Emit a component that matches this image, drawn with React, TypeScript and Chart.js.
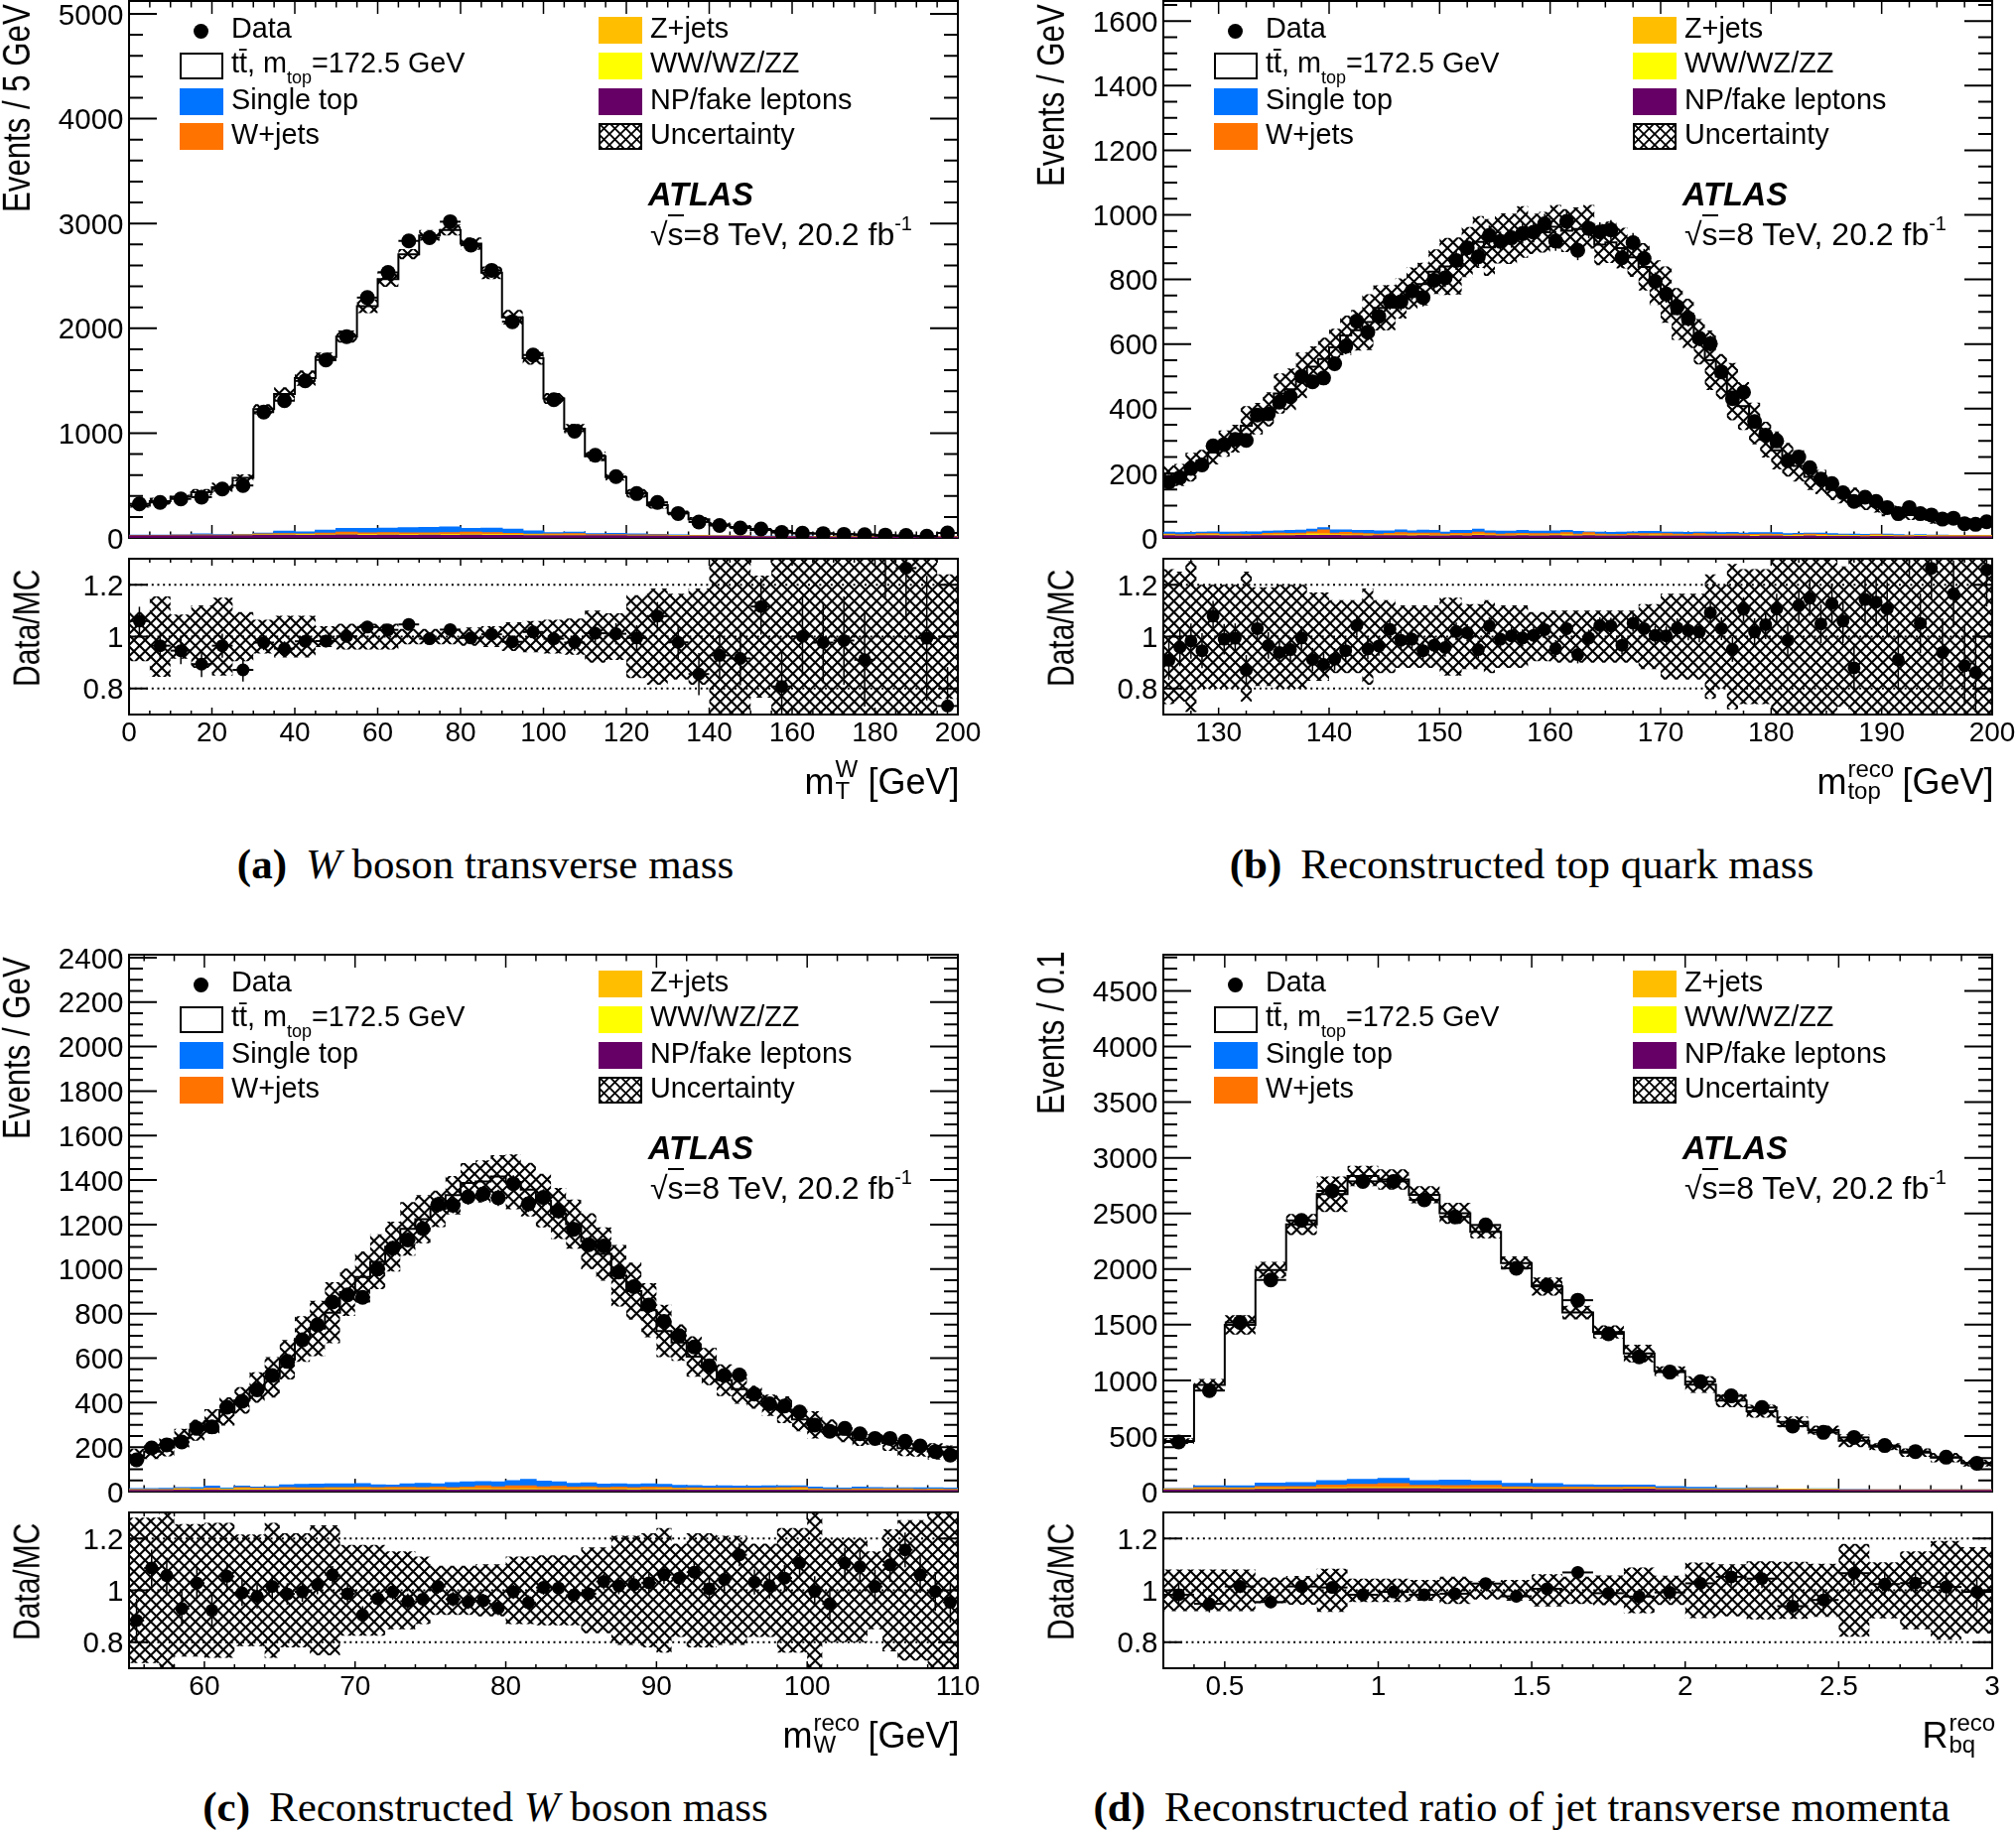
import React, { useEffect, useRef } from "react";
import { Chart, registerables } from "chart.js";

Chart.register(...registerables);

// ---------- (a) W boson transverse mass ----------
const mtwData = [325,338,372,389,467,500,1200,1309,1498,1698,1921,2293,2533,2834,2864,3017,2793,2553,2063,1745,1319,1018,788,585,423,338,233,152,118,95,85,51,44,41,34,30,27,24,17,47];
const mtwMc = [307,350,393,435,484,573,1228,1372,1525,1727,1921,2211,2469,2707,2887,2938,2807,2530,2105,1714,1330,1042,778,579,425,313,238,178,127,104,76,63,44,42,35,33,22,19,17,47];
const mtwRatio = [1.06,0.965,0.946,0.894,0.965,0.872,0.977,0.954,0.982,0.983,1.001,1.037,1.026,1.047,0.992,1.027,0.995,1.009,0.98,1.018,0.992,0.977,1.013,1.011,0.995,1.079,0.978,0.856,0.928,0.916,1.116,0.808,1.001,0.977,0.985,0.911,1.34,1.264,0.994,0.733];
const mtwRatioErr = [0.055,0.054,0.052,0.05,0.046,0.045,0.029,0.028,0.026,0.024,0.023,0.021,0.02,0.019,0.019,0.018,0.019,0.02,0.022,0.024,0.028,0.031,0.036,0.041,0.049,0.054,0.066,0.081,0.092,0.103,0.108,0.14,0.15,0.156,0.17,0.18,0.19,0.2,0.24,0.15];
const mtwBand = [0.095,0.155,0.085,0.12,0.15,0.095,0.065,0.08,0.08,0.04,0.05,0.05,0.05,0.03,0.03,0.03,0.035,0.04,0.055,0.06,0.065,0.07,0.1,0.09,0.16,0.185,0.165,0.185,0.31,0.31,0.235,0.32,0.32,0.32,0.32,0.32,0.32,0.32,0.32,0.24];
const mtwNp = [18,18,18,18,18,20,24,24,22,24,26,22,24,22,24,22,24,22,22,20,20,20,18,18,16,16,14,14,12,12,10,10,10,8,8,8,8,8,6,6];
const mtwVv = [2,2,2,2,2,2,3,3,3,3,3,3,3,3,3,3,3,3,3,3,2,2,2,2,2,2,2,1,1,1,1,1,1,1,1,1,1,1,1,1];
const mtwZj = [1,1,1,2,2,2,3,4,3,4,5,5,5,4,5,6,5,5,4,3,3,3,2,2,2,2,2,1,1,1,1,1,1,1,1,1,1,1,1,1];
const mtwWj = [1,1,2,3,2,3,5,8,7,12,18,14,16,16,14,16,20,18,12,8,10,12,6,6,5,5,3,2,2,2,1,1,1,1,1,1,1,1,1,1];
const mtwSt = [2,2,4,10,4,3,8,22,20,28,36,44,42,50,52,54,36,42,40,30,12,16,10,12,10,6,4,3,2,2,2,2,1,1,1,1,0,0,0,0];

// ---------- (b) Reconstructed top quark mass ----------
const mtopData = [173,187,215,226,285,289,305,302,380,384,420,437,500,483,495,539,593,671,637,686,733,731,764,744,797,805,859,898,870,936,918,929,942,946,972,919,980,890,958,947,953,867,914,865,794,755,716,680,618,601,514,431,451,360,318,300,239,250,217,182,168,140,113,126,113,94,75,94,75,71,58,61,44,42,50];
const mtopMc = [190,195,219,239,264,292,307,347,369,398,447,460,503,530,554,590,627,643,668,712,713,741,772,786,824,840,842,885,916,899,927,926,947,941,946,963,951,956,963,908,915,897,869,839,790,753,693,664,607,550,499,453,408,354,304,271,242,223,189,173,149,132,128,110,100,85,82,71,71,56,62,52,50,49,40];
const mtopRatio = [0.909,0.959,0.983,0.946,1.079,0.99,0.994,0.871,1.031,0.966,0.939,0.95,0.995,0.912,0.893,0.913,0.946,1.043,0.953,0.964,1.028,0.986,0.99,0.946,0.967,0.958,1.02,1.015,0.95,1.041,0.99,1.003,0.995,1.005,1.027,0.954,1.031,0.931,0.995,1.043,1.041,0.967,1.052,1.031,1.005,1.003,1.033,1.024,1.018,1.092,1.031,0.951,1.105,1.018,1.046,1.107,0.986,1.12,1.148,1.049,1.128,1.06,0.88,1.143,1.133,1.107,0.911,1.33,1.051,1.263,0.939,1.165,0.888,0.862,1.257];
const mtopRatioErr = [0.076,0.073,0.068,0.067,0.059,0.059,0.057,0.058,0.051,0.051,0.049,0.048,0.045,0.045,0.045,0.043,0.041,0.039,0.04,0.038,0.037,0.037,0.036,0.037,0.035,0.035,0.034,0.033,0.034,0.033,0.033,0.033,0.033,0.033,0.032,0.033,0.032,0.034,0.032,0.032,0.032,0.034,0.033,0.034,0.035,0.036,0.037,0.038,0.04,0.041,0.044,0.048,0.047,0.053,0.056,0.058,0.065,0.063,0.068,0.074,0.077,0.085,0.094,0.089,0.094,0.103,0.115,0.103,0.115,0.119,0.131,0.128,0.151,0.154,0.141];
const mtopBand = [0.26,0.25,0.29,0.2,0.2,0.2,0.2,0.25,0.19,0.19,0.2,0.2,0.2,0.17,0.17,0.14,0.14,0.14,0.185,0.14,0.14,0.12,0.12,0.12,0.12,0.15,0.15,0.125,0.125,0.14,0.12,0.12,0.12,0.095,0.095,0.1,0.1,0.1,0.1,0.1,0.1,0.1,0.1,0.125,0.125,0.165,0.165,0.165,0.165,0.24,0.2,0.28,0.26,0.26,0.26,0.31,0.31,0.31,0.31,0.31,0.31,0.27,0.31,0.31,0.31,0.31,0.31,0.31,0.31,0.31,0.31,0.31,0.31,0.31,0.31];
const mtopNp = [6,5,5,6,6,5,5,5,6,6,6,6,7,7,7,7,6,6,5,6,6,6,5,6,5,5,6,5,7,6,5,5,6,5,5,6,5,5,6,5,5,5,6,5,5,5,5,5,5,5,5,5,5,4,5,5,4,4,5,4,4,4,4,3,4,4,3,3,4,3,3,3,3,3,3];
const mtopVv = [1,1,1,1,2,1,1,1,1,1,1,1,1,2,1,1,1,1,2,1,1,1,1,1,1,2,1,1,1,1,1,1,1,1,1,1,2,1,1,1,1,1,1,1,2,1,1,1,1,1,1,1,1,1,1,1,1,1,1,1,1,1,1,1,1,1,1,1,1,1,1,1,1,1,1];
const mtopZj = [2,1,2,2,1,2,2,2,1,2,3,3,2,3,4,2,3,2,2,1,2,2,3,3,2,1,2,2,3,2,2,2,3,2,2,2,3,2,2,2,2,1,2,2,2,2,2,1,2,2,2,2,1,2,2,2,1,1,2,2,1,1,1,1,2,1,1,1,1,1,1,1,1,1,1];
const mtopWj = [2,2,1,3,3,2,3,2,2,4,4,3,4,6,12,4,6,5,3,3,4,6,5,4,6,3,4,5,6,5,3,4,3,4,4,3,5,3,6,3,1,3,3,4,3,4,3,3,4,3,2,3,3,3,3,2,2,3,3,3,2,2,1,2,2,2,1,1,1,1,1,1,1,1,1];
const mtopSt = [6,6,7,5,6,7,6,8,8,7,7,9,9,8,7,10,8,8,10,10,8,9,7,9,8,6,9,9,9,7,9,8,9,8,8,9,7,8,3,6,7,7,6,7,7,5,6,6,5,6,5,5,4,5,4,5,4,4,3,4,4,3,4,3,2,3,3,2,2,2,2,1,1,1,0];

// ---------- (c) Reconstructed W boson mass ----------
const mwData = [143,196,210,223,284,291,379,406,457,522,585,682,749,852,884,873,1000,1094,1131,1182,1290,1287,1325,1338,1320,1384,1293,1322,1261,1179,1110,1104,987,921,839,765,701,650,565,522,524,438,395,385,358,299,271,284,260,239,239,226,205,180,164];
const mwMc = [162,180,199,240,276,315,360,410,468,514,593,686,733,804,896,965,1033,1101,1181,1224,1271,1332,1387,1394,1416,1392,1357,1308,1250,1202,1125,1068,970,901,815,722,670,607,562,501,461,424,388,368,324,300,286,257,238,235,218,195,193,181,172];
const mwRatio = [0.884,1.086,1.057,0.93,1.028,0.923,1.054,0.99,0.977,1.015,0.986,0.994,1.022,1.06,0.987,0.905,0.968,0.994,0.958,0.966,1.015,0.966,0.955,0.96,0.932,0.994,0.953,1.011,1.009,0.981,0.987,1.034,1.017,1.022,1.029,1.06,1.047,1.07,1.006,1.042,1.137,1.032,1.018,1.047,1.105,0.996,0.948,1.105,1.091,1.015,1.098,1.156,1.06,0.996,0.954];
const mwRatioErr = [0.084,0.071,0.069,0.067,0.059,0.059,0.051,0.05,0.047,0.044,0.041,0.038,0.037,0.034,0.034,0.034,0.032,0.03,0.03,0.029,0.028,0.028,0.027,0.027,0.028,0.027,0.028,0.028,0.028,0.029,0.03,0.03,0.032,0.033,0.035,0.036,0.038,0.039,0.042,0.044,0.044,0.048,0.05,0.051,0.053,0.058,0.061,0.059,0.062,0.065,0.065,0.067,0.07,0.075,0.078];
const mwBand = [0.28,0.28,0.3,0.255,0.255,0.26,0.26,0.215,0.215,0.26,0.22,0.22,0.25,0.25,0.175,0.175,0.175,0.15,0.15,0.13,0.095,0.095,0.095,0.1,0.1,0.13,0.13,0.135,0.135,0.135,0.165,0.165,0.21,0.21,0.22,0.24,0.18,0.22,0.22,0.21,0.21,0.18,0.18,0.24,0.24,0.3,0.2,0.2,0.2,0.15,0.235,0.27,0.27,0.3,0.3];
const mwNp = [5,5,5,6,6,6,6,6,6,6,7,7,7,7,7,7,7,7,7,7,7,6,7,7,7,7,7,7,7,7,7,7,7,6,7,7,7,6,6,6,6,6,6,6,6,5,5,5,5,5,5,5,5,5,5];
const mwVv = [1,1,1,1,1,1,2,2,2,2,2,2,2,2,2,2,2,2,2,2,2,2,2,2,2,2,2,2,2,2,2,2,2,2,2,2,2,2,2,2,2,2,2,2,2,1,1,1,1,1,1,1,1,1,1];
const mwZj = [1,1,1,3,2,1,1,3,2,2,2,2,2,3,3,3,2,2,2,2,2,2,3,3,2,2,3,2,2,2,3,2,2,2,2,3,2,2,2,2,2,2,2,3,3,2,1,1,2,2,2,2,1,2,1];
const mwWj = [1,1,1,2,1,5,1,6,4,4,6,5,5,5,5,6,6,7,7,6,8,7,7,12,9,13,12,9,11,8,8,6,8,7,8,6,4,6,5,4,5,4,6,6,7,3,2,2,3,3,3,3,2,2,2];
const mwSt = [4,4,5,5,7,10,5,6,5,7,12,15,16,16,17,17,12,10,15,19,15,22,23,20,22,24,30,26,20,17,18,15,15,14,14,13,12,10,8,10,8,9,8,8,6,8,7,6,8,6,5,5,7,6,5];

// ---------- (d) Reconstructed ratio of jet transverse momenta ----------
const rbqData = [446,908,1520,1902,2437,2702,2788,2788,2622,2469,2396,2007,1854,1720,1418,1211,1074,988,860,755,589,532,487,414,360,309,255];
const rbqMc = [454,958,1498,1992,2401,2673,2836,2805,2667,2501,2335,2054,1843,1609,1434,1241,1083,962,818,722,627,552,457,404,350,305,257];
const rbqRatio = [0.983,0.948,1.015,0.955,1.015,1.011,0.983,0.994,0.983,0.987,1.026,0.977,1.006,1.069,0.989,0.976,0.992,1.027,1.052,1.045,0.939,0.963,1.066,1.024,1.028,1.013,0.994];
const rbqRatioErr = [0.047,0.033,0.026,0.023,0.02,0.019,0.019,0.019,0.02,0.02,0.02,0.022,0.023,0.024,0.027,0.029,0.031,0.032,0.034,0.036,0.041,0.043,0.045,0.049,0.053,0.057,0.063];
const rbqBand = [0.08,0.08,0.08,0.05,0.055,0.083,0.045,0.045,0.04,0.053,0.035,0.04,0.062,0.053,0.057,0.088,0.056,0.107,0.1,0.112,0.11,0.102,0.179,0.108,0.15,0.19,0.166];
const rbqNp = [14,16,16,18,20,22,24,24,24,22,22,20,18,18,18,20,16,14,14,14,12,12,10,10,10,10,10];
const rbqVv = [2,4,3,4,3,4,5,5,4,4,4,3,3,3,3,3,2,2,2,2,1,1,1,1,1,1,1];
const rbqZj = [3,4,5,5,6,8,9,10,9,6,6,5,5,5,6,5,3,3,2,3,2,2,1,1,1,1,1];
const rbqWj = [3,10,8,16,14,22,24,30,16,20,22,12,10,12,8,10,5,4,3,5,3,3,2,1,1,1,1];
const rbqSt = [3,16,18,30,34,40,46,48,42,48,40,32,34,20,20,18,16,12,6,8,3,4,2,1,1,1,0];

// ---------- tick labels ----------
const mtwXTicks = [0,20,40,60,80,100,120,140,160,180,200];
const mtopXTicks = [130,140,150,160,170,180,190,200];
const mwXTicks = [60,70,80,90,100,110];
const rbqXTicks = [0.5,1,1.5,2,2.5,3];
const mtwYTicks = [0,1000,2000,3000,4000,5000];
const mtopYTicks = [0,200,400,600,800,1000,1200,1400,1600];
const mwYTicks = [0,200,400,600,800,1000,1200,1400,1600,1800,2000,2200,2400];
const rbqYTicks = [0,500,1000,1500,2000,2500,3000,3500,4000,4500];
const ratioYTicks = [0.8,1,1.2];

const BLUE = "#0073ff", ORANGE = "#ff7300", AMBER = "#ffbf00", YELLOW = "#ffff00", PURPLE = "#660066";
const SANS = '"Liberation Sans", Arial, sans-serif';
const SERIF = '"Liberation Serif", "Times New Roman", serif';

const panels = [
  { key: "a", ox: 0, oy: 0, xMin: 0, xMax: 200, binW: 5, xMinor: 5, xTicks: mtwXTicks, yMax: 5123, yTicks: mtwYTicks, yMinor: 200, mainBandFrac: 0.6,
    data: mtwData, mc: mtwMc, ratio: mtwRatio, ratioErr: mtwRatioErr, band: mtwBand, np: mtwNp, vv: mtwVv, zj: mtwZj, wj: mtwWj, st: mtwSt,
    yTitle: "Events / 5 GeV", yBottom: 214, xBase: "m", xSup: "W", xSub: "T", xUnit: " [GeV]", stackW: 24, capY: 885, capCx: 489,
    tag: "(a)", caption: [["i", "W"], ["n", " boson transverse mass"]] },
  { key: "b", ox: 1042, oy: 0, xMin: 125, xMax: 200, binW: 1, xMinor: 2.5, xTicks: mtopXTicks, yMax: 1662, yTicks: mtopYTicks, yMinor: 50, mainBandFrac: 0.7,
    data: mtopData, mc: mtopMc, ratio: mtopRatio, ratioErr: mtopRatioErr, band: mtopBand, np: mtopNp, vv: mtopVv, zj: mtopZj, wj: mtopWj, st: mtopSt,
    yTitle: "Events / GeV", yBottom: 188, xBase: "m", xSup: "reco", xSub: "top", xUnit: " [GeV]", stackW: 46, capY: 885, capCx: 491,
    tag: "(b)", caption: [["n", "Reconstructed top quark mass"]] },
  { key: "c", ox: 0, oy: 961, xMin: 55, xMax: 110, binW: 1, xMinor: 2, xTicks: mwXTicks, yMax: 2413, yTicks: mwYTicks, yMinor: 50, mainBandFrac: 0.68,
    data: mwData, mc: mwMc, ratio: mwRatio, ratioErr: mwRatioErr, band: mwBand, np: mwNp, vv: mwVv, zj: mwZj, wj: mwWj, st: mwSt,
    yTitle: "Events / GeV", yBottom: 187, xBase: "m", xSup: "reco", xSub: "W", xUnit: " [GeV]", stackW: 46, capY: 874, capCx: 489,
    tag: "(c)", caption: [["n", "Reconstructed "], ["i", "W"], ["n", " boson mass"]] },
  { key: "d", ox: 1042, oy: 961, xMin: 0.3, xMax: 3, binW: 0.1, xMinor: 0.1, xTicks: rbqXTicks, yMax: 4825, yTicks: rbqYTicks, yMinor: 100, mainBandFrac: 0.72,
    data: rbqData, mc: rbqMc, ratio: rbqRatio, ratioErr: rbqRatioErr, band: rbqBand, np: rbqNp, vv: rbqVv, zj: rbqZj, wj: rbqWj, st: rbqSt,
    yTitle: "Events / 0.1", yBottom: 162, xBase: "R", xSup: "reco", xSub: "bq", xUnit: "", stackW: 46, capY: 874, capCx: 491,
    tag: "(d)", caption: [["n", "Reconstructed ratio of jet transverse momenta"]] },
];

function makeHatch() {
  const s = 45;
  const period = 11.25;
  const c = document.createElement("canvas");
  c.width = s; c.height = s;
  const g = c.getContext("2d")!;
  g.strokeStyle = "#000";
  g.lineWidth = 2.1;
  g.beginPath();
  for (let k = -4; k <= 4; k++) {
    g.moveTo(k * period - 2, -2); g.lineTo(k * period + s + 2, s + 2);
    g.moveTo(k * period - 2, s + 2); g.lineTo(k * period + s + 2, -2);
  }
  g.stroke();
  return g.createPattern(c, "repeat")!;
}

function stepValues(min: number, max: number, step: number) {
  const out: number[] = [];
  for (let k = Math.ceil(min / step - 1e-9); k * step <= max + 1e-9; k++) out.push(k * step);
  return out;
}

function framePlugin(cfg: any) {
  const draw = (chart: any) => {
    const { ctx, chartArea: a, scales } = chart;
    ctx.save();
    ctx.strokeStyle = "#000";
    const xTick = (v: number, len: number) => {
      const x = scales.x.getPixelForValue(v);
      ctx.moveTo(x, a.top); ctx.lineTo(x, a.top + len);
      ctx.moveTo(x, a.bottom); ctx.lineTo(x, a.bottom - len);
    };
    const yTick = (v: number, len: number) => {
      const y = scales.y.getPixelForValue(v);
      ctx.moveTo(a.left, y); ctx.lineTo(a.left + len, y);
      ctx.moveTo(a.right, y); ctx.lineTo(a.right - len, y);
    };
    ctx.lineWidth = 1.5;
    ctx.beginPath();
    cfg.xMinorVals.forEach((v: number) => xTick(v, cfg.xMinorLen));
    cfg.xMajorVals.forEach((v: number) => xTick(v, cfg.xMajorLen));
    ctx.stroke();
    ctx.lineWidth = 2;
    ctx.beginPath();
    cfg.yMinorVals.forEach((v: number) => yTick(v, cfg.yMinorLen));
    cfg.yMajorVals.forEach((v: number) => yTick(v, cfg.yMajorLen));
    ctx.stroke();
    ctx.lineWidth = 2;
    ctx.strokeRect(a.left, a.top, a.right - a.left, a.bottom - a.top);
    ctx.restore();
  };
  return cfg.under
    ? { id: "frame" + cfg.id, beforeDatasetsDraw: draw }
    : { id: "frame" + cfg.id, afterDatasetsDraw: draw };
}

function errorPlugin(cfg: any) {
  return {
    id: "errors" + cfg.id,
    afterDatasetsDraw(chart: any) {
      const { ctx, chartArea: a, scales } = chart;
      ctx.save();
      ctx.beginPath();
      ctx.rect(a.left, a.top, a.right - a.left, a.bottom - a.top);
      ctx.clip();
      ctx.strokeStyle = "#000";
      cfg.vals.forEach((v: number, i: number) => {
        const c = cfg.xMin + (i + 0.5) * cfg.binW;
        const px = scales.x.getPixelForValue(c);
        const py = scales.y.getPixelForValue(v);
        ctx.lineWidth = 2;
        ctx.beginPath();
        ctx.moveTo(scales.x.getPixelForValue(c - cfg.binW / 2), py);
        ctx.lineTo(scales.x.getPixelForValue(c + cfg.binW / 2), py);
        ctx.stroke();
        const e = cfg.relative ? v * cfg.errs[i] : cfg.errs[i];
        ctx.lineWidth = 1.5;
        ctx.beginPath();
        ctx.moveTo(px, scales.y.getPixelForValue(v - e));
        ctx.lineTo(px, scales.y.getPixelForValue(v + e));
        ctx.stroke();
      });
      ctx.restore();
    },
  };
}

function edges(p: any, vals: number[]) {
  const pts = vals.map((v, i) => ({ x: p.xMin + i * p.binW, y: v }));
  pts.push({ x: p.xMax, y: vals[vals.length - 1] });
  return pts;
}
function centers(p: any, vals: number[]) {
  return vals.map((v, i) => ({ x: p.xMin + (i + 0.5) * p.binW, y: v }));
}
const stepLine = (extra: any) => ({ stepped: "before", pointRadius: 0, borderWidth: 0, fill: false, ...extra });
const stackLine = (data: any, color: string) =>
  stepLine({ data, fill: "origin", backgroundColor: color, borderColor: color, borderWidth: 1.5 });

function yScale(min: number, max: number, ticks: number[]) {
  return {
    type: "linear", min, max,
    afterFit: (s: any) => { s.width = 130; s.paddingTop = 0; s.paddingBottom = 0; },
    afterBuildTicks: (s: any) => { s.ticks = ticks.map((value) => ({ value })); },
    grid: { display: false, drawTicks: false }, border: { display: false },
    ticks: { autoSkip: false, padding: 5.5, labelOffset: 2.5, color: "#000", font: { family: SANS, size: 29.5 }, callback: (v: number) => String(v) },
  };
}

function Panel({ p }: { p: any }) {
  const mainRef = useRef<HTMLCanvasElement>(null);
  const ratioRef = useRef<HTMLCanvasElement>(null);
  useEffect(() => {
    const hatch = makeHatch();
    const cum = (...arrs: number[][]) => p.np.map((_: number, i: number) => arrs.reduce((t, a) => t + (a[i] ?? 0), 0));
    const common = {
      responsive: false, animation: false, devicePixelRatio: 1, events: [],
      plugins: { legend: { display: false }, tooltip: { enabled: false }, title: { display: false } },
    };
    const main = new Chart(mainRef.current!, {
      type: "line",
      data: {
        datasets: [
          { data: centers(p, p.data), showLine: false, pointRadius: 7.5, pointBorderWidth: 0, pointBackgroundColor: "#000" },
          stepLine({ data: edges(p, p.mc), borderWidth: 2, borderColor: "#000" }),
          stepLine({ data: edges(p, p.mc.map((m: number, i: number) => m * (1 + p.band[i] * p.mainBandFrac))), fill: "+1", backgroundColor: hatch }),
          stepLine({ data: edges(p, p.mc.map((m: number, i: number) => m * (1 - p.band[i] * p.mainBandFrac))) }),
          stackLine(edges(p, p.np), PURPLE),
          stackLine(edges(p, cum(p.np, p.vv)), YELLOW),
          stackLine(edges(p, cum(p.np, p.vv, p.zj)), AMBER),
          stackLine(edges(p, cum(p.np, p.vv, p.zj, p.wj)), ORANGE),
          stackLine(edges(p, cum(p.np, p.vv, p.zj, p.wj, p.st)), BLUE),
        ],
      },
      options: {
        ...common,
        layout: { autoPadding: false, padding: { left: 0, right: 65, top: 21, bottom: 18 } },
        scales: {
          x: { type: "linear", min: p.xMin, max: p.xMax, display: false },
          y: yScale(0, p.yMax, p.yTicks),
        },
      },
      plugins: [
        errorPlugin({ id: "m", vals: p.data, errs: p.ratioErr, relative: true, xMin: p.xMin, binW: p.binW }),
        framePlugin({ id: "m", under: true, xMajorVals: p.xTicks, xMinorVals: stepValues(p.xMin, p.xMax, p.xMinor), xMajorLen: 13, xMinorLen: 6.5,
          yMajorVals: p.yTicks, yMinorVals: stepValues(0, p.yMax, p.yMinor), yMajorLen: 28, yMinorLen: 14 }),
      ],
    } as any);
    const level = (v: number) => ({
      data: [{ x: p.xMin, y: v }, { x: p.xMax, y: v }], pointRadius: 0, borderWidth: 2, borderColor: "#000", borderDash: [2, 3.7], fill: false,
    });
    const ratio = new Chart(ratioRef.current!, {
      type: "line",
      data: {
        datasets: [
          { data: centers(p, p.ratio), showLine: false, pointRadius: 6.5, pointBorderWidth: 0, pointBackgroundColor: "#000" },
          stepLine({ data: edges(p, p.band.map((b: number) => 1 + b)), fill: "+1", backgroundColor: hatch }),
          stepLine({ data: edges(p, p.band.map((b: number) => 1 - b)) }),
          ...ratioYTicks.map(level),
        ],
      },
      options: {
        ...common,
        layout: { autoPadding: false, padding: { left: 0, right: 65, top: 8, bottom: 0 } },
        scales: {
          x: {
            type: "linear", min: p.xMin, max: p.xMax,
            afterFit: (s: any) => { s.height = 50; s.paddingLeft = 0; s.paddingRight = 0; },
            afterBuildTicks: (s: any) => { s.ticks = p.xTicks.map((value: number) => ({ value })); },
            grid: { display: false, drawTicks: false }, border: { display: false },
            ticks: { autoSkip: false, maxRotation: 0, padding: 2, color: "#000", font: { family: SANS, size: 28 }, callback: (v: number) => String(v) },
          },
          y: yScale(0.7, 1.3, ratioYTicks),
        },
      },
      plugins: [
        errorPlugin({ id: "r", vals: p.ratio, errs: p.ratioErr, relative: false, xMin: p.xMin, binW: p.binW }),
        framePlugin({ id: "r", under: false, xMajorVals: p.xTicks, xMinorVals: stepValues(p.xMin, p.xMax, p.xMinor), xMajorLen: 7, xMinorLen: 4,
          yMajorVals: ratioYTicks, yMinorVals: [], yMajorLen: 19, yMinorLen: 0 }),
      ],
    } as any);
    return () => { main.destroy(); ratio.destroy(); };
  }, [p]);

  return (
    <div style={{ position: "absolute", left: p.ox, top: p.oy, width: 1030, height: 884 }}>
      <canvas ref={mainRef} width={1030} height={580} style={{ position: "absolute", left: 0, top: -20, width: 1030, height: 580 }} />
      <canvas ref={ratioRef} width={1030} height={215} style={{ position: "absolute", left: 0, top: 555, width: 1030, height: 215 }} />
      <RotTitle text={p.yTitle} bottom={p.yBottom} base={30.5} size={31.2} />
      <RotTitle text="Data/MC" bottom={692} base={40} size={30} />
      <Legend />
      <Atlas />
      <XTitle p={p} />
      <Caption p={p} />
    </div>
  );
}

function RotTitle({ text, bottom, base, size }: any) {
  const stretch = 1.22;
  const x = base - 0.8465 * size * stretch;
  return (
    <div style={{ position: "absolute", left: 0, top: 0, fontFamily: SANS, fontSize: size, lineHeight: 1, whiteSpace: "nowrap", color: "#000",
      transformOrigin: "0 0", transform: `translate(${x}px, ${bottom}px) rotate(-90deg) scale(1, ${stretch})` }}>{text}</div>
  );
}

function Txt({ x, y, size, children, style }: any) {
  return (
    <div style={{ position: "absolute", left: x, top: y - 0.8465 * size, fontFamily: SANS, fontSize: size, lineHeight: 1, whiteSpace: "nowrap", color: "#000", ...style }}>
      {children}
    </div>
  );
}

const swatchColsLeft = [
  { label: "Single top", color: BLUE, top: 89, base: 110 },
  { label: "W+jets", color: ORANGE, top: 124, base: 145 },
];
const swatchColsRight = [
  { label: "Z+jets", color: AMBER, top: 17, base: 38 },
  { label: "WW/WZ/ZZ", color: YELLOW, top: 53, base: 73 },
  { label: "NP/fake leptons", color: PURPLE, top: 89, base: 110 },
];

function Legend() {
  const box = (x: number, top: number, extra: any) => (
    <div style={{ position: "absolute", left: x, top, width: 44, height: 26.5, boxSizing: "border-box", ...extra }} />
  );
  const LFS = 28.8;
  return (
    <>
      <div style={{ position: "absolute", left: 194.5, top: 23.5, width: 15, height: 15, borderRadius: "50%", background: "#000" }} />
      <Txt x={233} y={38} size={LFS}>Data</Txt>
      {box(180.5, 53, { border: "2px solid #000", background: "#fff" })}
      <Txt x={233} y={73} size={LFS}>
        {"tt\u0304, m"}
        <span style={{ fontSize: 18, position: "relative", top: 11 }}>top</span>
        {"=172.5 GeV"}
      </Txt>
      {swatchColsLeft.map((s) => (
        <React.Fragment key={s.label}>
          {box(180.5, s.top, { background: s.color })}
          <Txt x={233} y={s.base} size={LFS}>{s.label}</Txt>
        </React.Fragment>
      ))}
      {swatchColsRight.map((s) => (
        <React.Fragment key={s.label}>
          {box(603, s.top, { background: s.color })}
          <Txt x={655} y={s.base} size={LFS}>{s.label}</Txt>
        </React.Fragment>
      ))}
      <svg style={{ position: "absolute", left: 603, top: 124 }} width={44} height={27}>
        <defs>
          <pattern id="legendHatch" width="11" height="11" patternUnits="userSpaceOnUse">
            <path d="M-1,-1L12,12M-1,12L12,-1" stroke="#000" strokeWidth="1.8" fill="none" />
          </pattern>
        </defs>
        <rect x="1" y="1" width="42" height="25" fill="url(#legendHatch)" stroke="#000" strokeWidth="2" />
      </svg>
      <Txt x={655} y={145} size={LFS}>Uncertainty</Txt>
    </>
  );
}

function Atlas() {
  return (
    <>
      <Txt x={653} y={208} size={32.5} style={{ fontWeight: "bold", fontStyle: "italic" }}>ATLAS</Txt>
      <Txt x={655} y={247} size={32}>
        {"\u221A"}
        <span style={{ borderTop: "2px solid #000" }}>s</span>
        {"=8 TeV, 20.2 fb"}
        <span style={{ fontSize: 20, position: "relative", top: -15 }}>-1</span>
      </Txt>
    </>
  );
}

function XTitle({ p }: any) {
  const f = 36;
  return (
    <div style={{ position: "absolute", left: 0, width: 966.5, top: 800 - 0.8465 * f, textAlign: "right", fontFamily: SANS, fontSize: f, lineHeight: 1, whiteSpace: "pre", color: "#000" }}>
      {p.xBase}
      <span style={{ display: "inline-block", position: "relative", width: p.stackW, height: 0 }}>
        <span style={{ position: "absolute", left: 1, top: -37, fontSize: 24, lineHeight: 1 }}>{p.xSup}</span>
        <span style={{ position: "absolute", left: 1, top: -15, fontSize: 24, lineHeight: 1 }}>{p.xSub}</span>
      </span>
      {p.xUnit}
    </div>
  );
}

function Caption({ p }: any) {
  const f = 43;
  return (
    <div style={{ position: "absolute", left: p.capCx, top: p.capY - 0.8375 * f, transform: "translateX(-50%)", fontFamily: SERIF, fontSize: f, lineHeight: 1, whiteSpace: "pre", color: "#000" }}>
      <b>{p.tag}</b>
      <span style={{ display: "inline-block", width: 19 }} />
      {p.caption.map(([k, t]: string[], i: number) => (k === "i" ? <i key={i}>{t}</i> : <span key={i}>{t}</span>))}
    </div>
  );
}

export default function App() {
  return (
    <div style={{ position: "absolute", left: 0, top: 0, width: 2031, height: 1845, overflow: "hidden", background: "#fff" }}>
      {panels.map((p) => <Panel key={p.key} p={p} />)}
    </div>
  );
}
